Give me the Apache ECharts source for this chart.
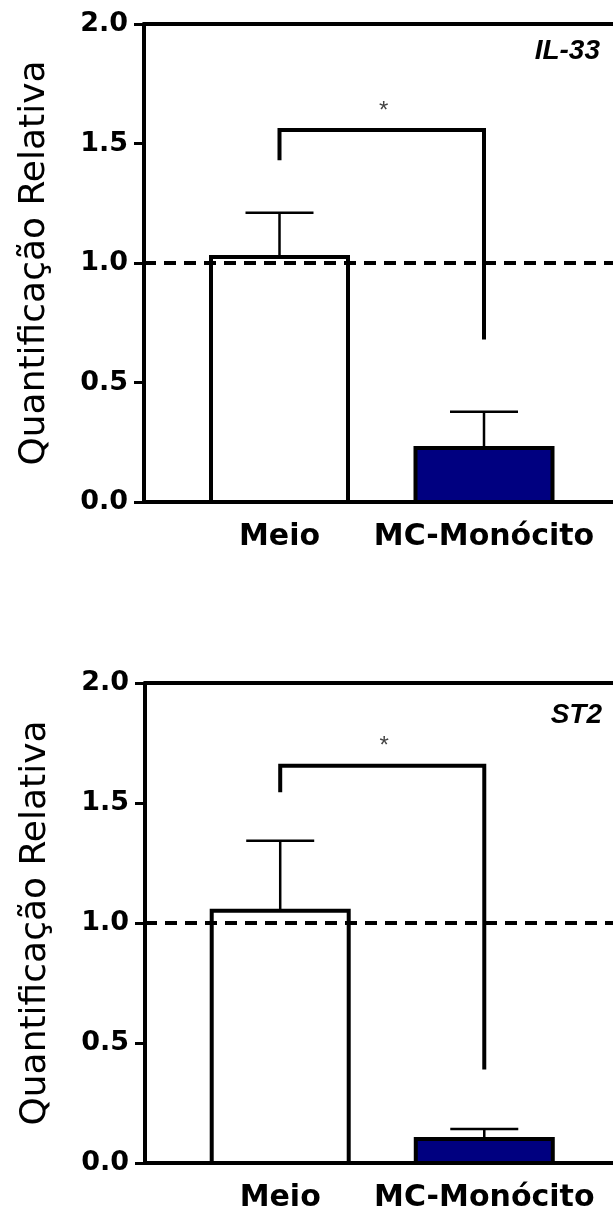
<!DOCTYPE html>
<html>
<head>
<meta charset="utf-8">
<script src="https://cdn.jsdelivr.net/npm/echarts@6/dist/echarts.min.js"></script>
<style>
    html,body{margin:0;padding:0;background:#fff;}
    #container{width:613px;height:1214px;}
</style>
</head>
<body>
<div id="container"></div>
<script>
// categorias e valores
var categories = ['Meio', 'MC-Monócito'];
var il33Means = [1.025, 0.226];
var il33Sem = [0.185, 0.152];
var st2Means = [1.051, 0.100];
var st2Sem = [0.292, 0.042];
// colchete de significancia: [y esquerda, y topo, y direita]
var il33Bracket = [1.43, 1.556, 0.68];
var st2Bracket = [1.545, 1.655, 0.39];
var yTicks = [0, 0.5, 1.0, 1.5, 2.0];
var barColors = ['#ffffff', '#000080'];

var xMin = -0.6626, xMax = 1.6308;
var font = 'DejaVu Sans';

function barData(means, sem) {
    var arr = [];
    for (var i = 0; i < means.length; i++) {
        arr.push([i, means[i], sem[i]]);
    }
    return arr;
}
// barra + erro (so para cima)
function barRender(params, api) {
    var x = api.value(0), m = api.value(1), e = api.value(2);
    var base = api.coord([x, 0]);
    var top = api.coord([x, m]);
    var errTop = api.coord([x, m + e]);
    var bw = 137, half = 34;
    var st = {stroke: '#000', lineWidth: 2.5};
    return {type: 'group', children: [
        {type: 'line', shape: {x1: top[0], y1: top[1], x2: errTop[0], y2: errTop[1]}, style: st},
        {type: 'line', shape: {x1: errTop[0] - half, y1: errTop[1], x2: errTop[0] + half, y2: errTop[1]}, style: st},
        {type: 'rect', shape: {x: base[0] - bw / 2, y: top[1], width: bw, height: base[1] - top[1]},
            style: {fill: barColors[params.dataIndex], stroke: '#000', lineWidth: 4}}
    ]};
}
function bracketRender(params, api) {
    var p1 = api.coord([0, api.value(0)]);
    var p2 = api.coord([0, api.value(1)]);
    var p3 = api.coord([1, api.value(1)]);
    var p4 = api.coord([1, api.value(2)]);
    return {type: 'group', children: [
        {type: 'polyline', shape: {points: [p1, p2, p3, p4]},
            style: {stroke: '#000', lineWidth: 4, fill: null}},
        {type: 'text', x: (p2[0] + p3[0]) / 2 + 2, y: p2[1] - 19,
            style: {text: '*', fill: '#444', font: '24px "Liberation Sans"', align: 'center', verticalAlign: 'middle'}}
    ]};
}

function xAxes(gridIndex) {
    return [{
        type: 'value', gridIndex: gridIndex, position: 'bottom', min: xMin, max: xMax,
        scale: true,
        splitLine: {show: false},
        axisLine: {show: true, onZero: false, lineStyle: {color: '#000', width: 4}},
        axisTick: {show: false},
        axisLabel: {
            customValues: [0, 1],
            formatter: function (v) { return categories[Math.round(v)]; },
            margin: 20, color: '#000', fontFamily: font, fontWeight: 'bold', fontSize: 30
        }
    }, {
        type: 'value', gridIndex: gridIndex, position: 'top', min: xMin, max: xMax,
        scale: true,
        splitLine: {show: false},
        axisLine: {show: true, onZero: false, lineStyle: {color: '#000', width: 4}},
        axisTick: {show: false},
        axisLabel: {show: false}
    }];
}
function yAxis(gridIndex) {
    return {
        type: 'value', gridIndex: gridIndex, min: 0, max: 2, interval: 0.5,
        name: 'Quantificação Relativa', nameLocation: 'middle', nameGap: 91,
        nameTextStyle: {color: '#000', fontFamily: font, fontSize: 36},
        splitLine: {show: false},
        axisLine: {show: true, onZero: false, lineStyle: {color: '#000', width: 4}},
        axisTick: {show: true, length: 10, lineStyle: {color: '#000', width: 3}},
        axisLabel: {
            customValues: yTicks,
            formatter: function (v) { return v.toFixed(1); },
            margin: 16, color: '#000', fontFamily: font, fontWeight: 'bold', fontSize: 27
        }
    };
}
function panelSeries(idx, means, sem, bracket) {
    return [{
        type: 'custom', xAxisIndex: idx * 2, yAxisIndex: idx, z: 2,
        renderItem: barRender, data: barData(means, sem),
        markLine: {
            silent: true, symbol: 'none', label: {show: false}, z: 10,
            lineStyle: {color: '#000', type: [12, 8], width: 4},
            data: [{yAxis: 1}]
        }
    }, {
        type: 'custom', xAxisIndex: idx * 2, yAxisIndex: idx, z: 5,
        renderItem: bracketRender, data: [bracket]
    }];
}

var myChart = echarts.init(document.getElementById('container'));
var option = {
    backgroundColor: '#ffffff',
    animation: false,
    title: [{
        text: 'IL-33', right: 13, top: 37, padding: 0,
        textStyle: {fontFamily: 'Liberation Sans', fontStyle: 'italic', fontWeight: 'bold', fontSize: 28, color: '#000'}
    }, {
        text: 'ST2', right: 11, top: 701, padding: 0,
        textStyle: {fontFamily: 'Liberation Sans', fontStyle: 'italic', fontWeight: 'bold', fontSize: 28, color: '#000'}
    }],
    grid: [
        {left: 144, top: 24, width: 469, height: 478, containLabel: false},
        {left: 145, top: 683, width: 468, height: 480, containLabel: false}
    ],
    xAxis: xAxes(0).concat(xAxes(1)),
    yAxis: [yAxis(0), yAxis(1)],
    series: panelSeries(0, il33Means, il33Sem, il33Bracket)
        .concat(panelSeries(1, st2Means, st2Sem, st2Bracket))
};
myChart.setOption(option);
</script>
</body>
</html>
